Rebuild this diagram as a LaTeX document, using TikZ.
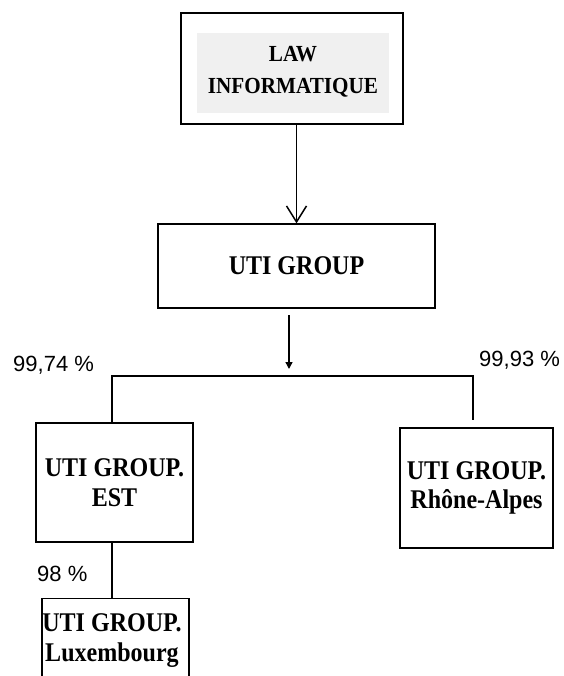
\documentclass[tikz,border=0pt]{standalone}
\usepackage{fontspec}
\setmainfont{Liberation Serif}
\newfontfamily\pctfont{Liberation Sans}
\newfontfamily\boxfont[FakeStretch=0.89]{Liberation Serif}
\newfontfamily\lawfont[FakeStretch=0.92]{Liberation Serif}
\usetikzlibrary{arrows.meta}
\definecolor{lawgray}{HTML}{F0F0F0}
\tikzset{
  boxnode/.style={draw=black, line width=1.3pt, rectangle, inner sep=0pt, align=center,
    font=\fontsize{27}{30}\selectfont\boxfont\bfseries},
  txtnode/.style={inner sep=0pt, align=center, font=\fontsize{27}{30}\selectfont\boxfont\bfseries},
  pct/.style={inner sep=0pt, anchor=base west, font=\fontsize{22}{26}\selectfont\pctfont},
  conn/.style={line width=1.4pt, draw=black},
}
\begin{document}
\begin{tikzpicture}[x=1pt,y=-1pt]
\useasboundingbox (0,0) rectangle (563,676);
\clip (0,0) rectangle (563,676);

% LAW INFORMATIQUE
\node[draw=black, line width=2pt, minimum width=222pt, minimum height=111pt, inner sep=0pt] (law) at (292,68.5) {};
\node[fill=lawgray, minimum width=192pt, minimum height=80pt, inner sep=0pt] (lawin) at (293,73) {};
\node[txtnode, font=\fontsize{23}{32}\selectfont\lawfont\bfseries] (lawtxt) at (293,71.5) {LAW\\INFORMATIQUE};

% UTI GROUP
\node[boxnode, minimum width=277pt, minimum height=84pt] (uti) at (296.5,266) {UTI GROUP};

% subsidiaries
\node[boxnode, minimum width=157pt, minimum height=119pt] (est) at (114.5,482.5) {UTI GROUP.\\EST};
\node[boxnode, minimum width=153pt, minimum height=120pt, font=\fontsize{27}{29}\selectfont\boxfont\bfseries] (rho) at (476.5,488) {UTI GROUP.\\Rh\^one-Alpes};
\node[draw=black, line width=1.3pt, minimum width=147pt, minimum height=120pt, inner sep=0pt, anchor=north] (lux) at (115.5,598) {};
\node[txtnode] (luxtxt) at (112,641) {UTI GROUP.\\Luxembourg};

% connectors
\draw[conn, line width=1.7pt, -{Straight Barb[length=16pt,width=20pt,line width=1.5pt]}] (uti.north |- law.south) -- (uti.north);
\coordinate (a2s) at (289,315);
\coordinate (a2e) at (289,369);
\draw[conn, -{Triangle[length=7pt,width=7pt]}] (a2s) -- (a2e);
\coordinate (jl) at (112,376);
\coordinate (jr) at (473,376);
\coordinate (rend) at (473,420);
\draw[conn] (jl |- est.north) -- (jl) -- (jr) -- (rend);
\draw[conn] (jl |- est.south) -- (jl |- lux.north);

% percentages
\node[pct] (p1) at (13,371) {99,74 \%};
\node[pct] (p2) at (479,366) {99,93 \%};
\node[pct] (p3) at (37,581) {98 \%};
\end{tikzpicture}
\end{document}
